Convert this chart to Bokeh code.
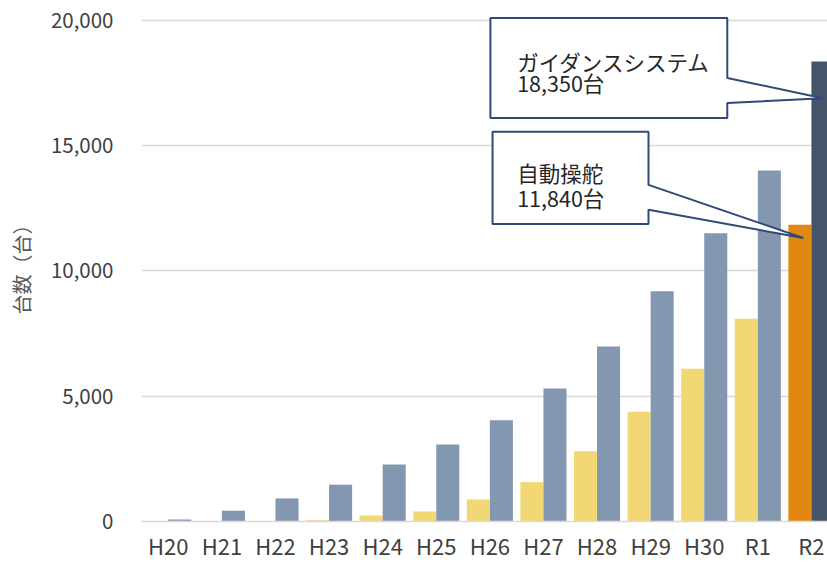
from bokeh.plotting import figure
from bokeh.models import Range1d, FixedTicker, NumeralTickFormatter
from bokeh.core.properties import value
from bokeh.embed import file_html
from bokeh.resources import INLINE

# ---- data ----
years = ["H20", "H21", "H22", "H23", "H24", "H25", "H26", "H27", "H28", "H29", "H30", "R1", "R2"]
autosteer = [0, 0, 0, 50, 240, 400, 880, 1570, 2800, 4380, 6090, 8090, 11840]
guidance = [80, 430, 920, 1470, 2270, 3070, 4040, 5300, 6980, 9180, 11500, 14000, 18350]
y_ticks = [0, 5000, 10000, 15000, 20000]
guidance_label = ["ガイダンスシステム", "18,350台"]
autosteer_label = ["自動操舵", "11,840台"]
y_title = "台数（台）"

FONT = "Noto Sans CJK JP"
n = len(years)
idx = list(range(n))
hl = n - 1  # highlighted year

col_auto = ["#F1D875" if i != hl else "#E0880F" for i in idx]
col_guid = ["#8497B0" if i != hl else "#44546A" for i in idx]

p = figure(width=827, height=563, output_backend="svg", toolbar_location=None,
           x_range=Range1d(-0.5, n - 0.7), y_range=Range1d(0, 20500),
           min_border_left=141, min_border_right=0, min_border_top=7, min_border_bottom=41)
p.outline_line_color = None
p.background_fill_color = "white"
p.border_fill_color = "white"

w = 0.43
off = 0.215
p.vbar(x=[i - off for i in idx], top=autosteer, width=w, color=col_auto, line_color=None)
p.vbar(x=[i + off for i in idx], top=guidance, width=w, color=col_guid, line_color=None)

# axes
p.xaxis.ticker = FixedTicker(ticks=idx)
p.xaxis.major_label_overrides = {i: years[i] for i in idx}
p.xaxis.major_tick_line_color = None
p.xaxis.major_tick_out = 0
p.xaxis.minor_tick_line_color = None
p.xaxis.axis_line_color = "#d9d9d9"
p.xaxis.axis_line_width = 1.5
p.xaxis.major_label_text_font = FONT
p.xaxis.major_label_text_font_size = "22px"
p.xaxis.major_label_text_color = "#404040"
p.xaxis.major_label_standoff = 7

p.yaxis.ticker = FixedTicker(ticks=y_ticks)
p.yaxis.formatter = NumeralTickFormatter(format="0,0")
p.yaxis.major_tick_line_color = None
p.yaxis.major_tick_out = 0
p.yaxis.minor_tick_line_color = None
p.yaxis.axis_line_color = None
p.yaxis.major_label_text_font = FONT
p.yaxis.major_label_text_font_size = "20.5px"
p.yaxis.major_label_text_color = "#404040"
p.yaxis.major_label_standoff = 28
p.yaxis.axis_label = y_title
p.yaxis.axis_label_text_font = FONT
p.yaxis.axis_label_text_font_size = "20px"
p.yaxis.axis_label_text_font_style = "normal"
p.yaxis.axis_label_text_color = "#595959"
p.yaxis.axis_label_standoff = 12

p.xgrid.grid_line_color = None
p.ygrid.ticker = FixedTicker(ticks=y_ticks)
p.ygrid.grid_line_color = "#d9d9d9"
p.ygrid.grid_line_width = 1.5

# callouts (pointing at the highlighted bars)
edge = "#2F4A78"
tip_g_x, tip_g_y = hl + off, guidance[hl] * 0.92
tip_a_x, tip_a_y = hl - off * 0.7, autosteer[hl] * 0.955

box1 = dict(x0=6.01, x1=10.43, y0=16095, y1=20080, b0=16690, b1=17690)
p.patch([box1["x0"], box1["x1"], box1["x1"], tip_g_x, box1["x1"], box1["x1"], box1["x0"]],
        [box1["y1"], box1["y1"], box1["b1"], tip_g_y, box1["b0"], box1["y0"], box1["y0"]],
        fill_color="white", line_color=edge, line_width=2)
box2 = dict(x0=6.05, x1=8.96, y0=11870, y1=15540, b0=12430, b1=13425)
p.patch([box2["x0"], box2["x1"], box2["x1"], tip_a_x, box2["x1"], box2["x1"], box2["x0"]],
        [box2["y1"], box2["y1"], box2["b1"], tip_a_y, box2["b0"], box2["y0"], box2["y0"]],
        fill_color="white", line_color=edge, line_width=2)

p.text(x=[6.51, 6.51], y=[18330, 17490], text=guidance_label, text_font=value(FONT),
       text_font_size="21.5px", text_color="#262626", text_baseline="middle", text_align="left")
p.text(x=[6.51, 6.51], y=[13900, 12910], text=autosteer_label, text_font=value(FONT),
       text_font_size="21.5px", text_color="#262626", text_baseline="middle", text_align="left")

open("out.html", "w").write(file_html(p, INLINE))
